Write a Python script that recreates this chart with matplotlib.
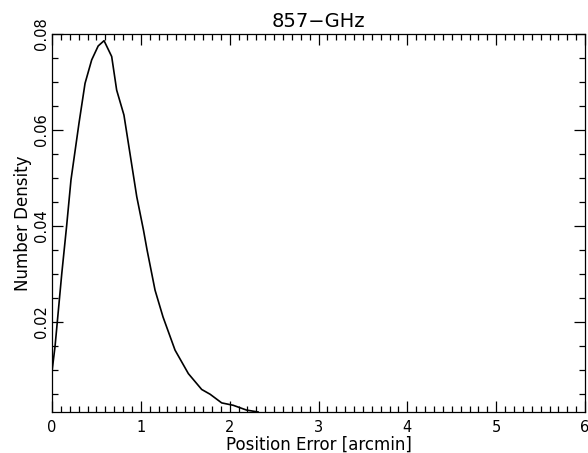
import matplotlib
matplotlib.use("Agg")
import matplotlib.pyplot as plt
from matplotlib.ticker import MultipleLocator

plt.rcParams['font.family'] = ['DejaVu Sans']

# position error [arcmin] and number density
err = [0.0, 0.034, 0.11, 0.165, 0.214, 0.304, 0.372, 0.447, 0.52, 0.586,
       0.672, 0.728, 0.81, 0.954, 1.03, 1.07, 1.16, 1.25, 1.385, 1.535,
       1.685, 1.78, 1.91, 2.04, 2.19, 2.32]
density = [0.0096, 0.0148, 0.030, 0.040, 0.0496, 0.0614, 0.0697, 0.0746, 0.0775, 0.0786,
           0.0753, 0.0683, 0.0631, 0.0461, 0.0391, 0.0350, 0.0266, 0.0210, 0.0141, 0.0092,
           0.0059, 0.0049, 0.0031, 0.0026, 0.0016, 0.0012]
ytick_vals = [0.02, 0.04, 0.06, 0.08]
ytick_labels = ['0.02', '0.04', '0.06', '0.08']

fig = plt.figure(figsize=(5.88, 4.53), dpi=100)
ax = fig.add_axes([0.0884, 0.0905, 0.9066, 0.8345])

ax.plot(err, density, color='black', linewidth=1.2)

ax.set_xlim(0, 6)
ax.set_ylim(0.0012, 0.08)
ax.xaxis.set_major_locator(MultipleLocator(1))
ax.xaxis.set_minor_locator(MultipleLocator(0.1))
ax.yaxis.set_minor_locator(MultipleLocator(0.005))
ax.set_yticks(ytick_vals)
ax.set_yticklabels(ytick_labels, rotation=90, va='center')

ax.tick_params(which='both', direction='in', top=True, right=True, labelsize=10.5, width=0.9)
ax.tick_params(which='major', length=8)
ax.tick_params(which='minor', length=4)
ax.tick_params(axis='x', pad=6)
ax.tick_params(axis='y', pad=2)
for s in ax.spines.values():
    s.set_linewidth(0.9)

ax.set_title('857\u2212GHz', fontsize=14, pad=5)
ax.set_xlabel('Position Error [arcmin]', fontsize=12)
ax.set_ylabel('Number Density', fontsize=12)
ax.xaxis.set_label_coords(0.5, -0.062)
ax.yaxis.set_label_coords(-0.038, 0.5)

fig.savefig('out.png', dpi=100)
